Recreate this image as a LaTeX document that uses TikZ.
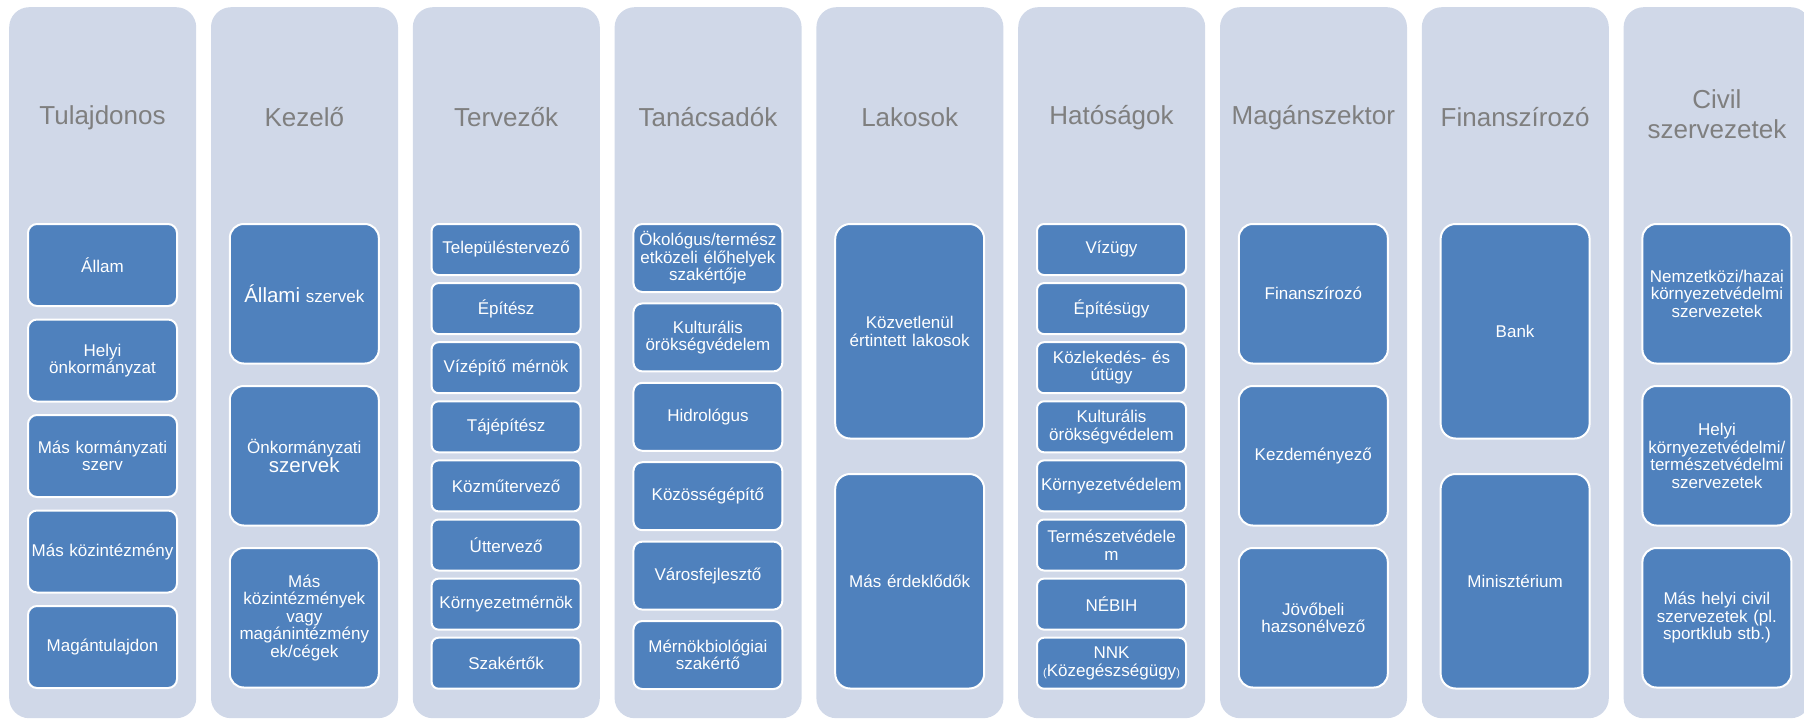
\documentclass[tikz,border=0pt]{standalone}
\usepackage{fontspec}
\setmainfont{Liberation Sans}
\definecolor{colfill}{HTML}{D0D8E8}
\definecolor{boxfill}{HTML}{4F81BD}
\definecolor{headgray}{HTML}{7F7F7F}
\newcommand{\bigw}[1]{{\fontsize{20.5}{22}\selectfont #1}}
\begin{document}
\begin{tikzpicture}[x=1pt,y=-1pt,
 colbg/.style={fill=colfill, rounded corners=20pt, draw=none, inner sep=0pt, minimum width=187pt, minimum height=711pt, anchor=north west},
 head/.style={text=headgray, font=\fontsize{26}{30}\selectfont, align=center, inner sep=0pt},
 box/.style={fill=boxfill, draw=white, line width=2pt, text=white, font=\fontsize{17}{17.5}\selectfont, align=center, inner sep=0pt, minimum width=149pt, anchor=north, text width=147pt},
 bfive/.style={box, minimum height=82pt, rounded corners=9pt},
 bthree/.style={box, minimum height=139.5pt, rounded corners=14pt},
 beight/.style={box, minimum height=51pt, rounded corners=7pt},
 bsix/.style={box, minimum height=68pt, rounded corners=9pt},
 btwo/.style={box, minimum height=214.5pt, rounded corners=15pt}
]
\useasboundingbox (0,0) rectangle (1804,720);
% columns
\node[colbg] (c1) at (9,7) {};
\node[colbg] (c2) at (210.8,7) {};
\node[colbg] (c3) at (412.6,7) {};
\node[colbg] (c4) at (614.4,7) {};
\node[colbg] (c5) at (816.2,7) {};
\node[colbg] (c6) at (1018,7) {};
\node[colbg] (c7) at (1219.8,7) {};
\node[colbg] (c8) at (1421.6,7) {};
\node[colbg] (c9) at (1623.4,7) {};
% headers
\node[head] (h1) at (102.5,117.5) {Tulajdonos};
\node[head] (h2) at (304.3,117.5) {Kezelő};
\node[head] (h3) at (506.1,117.5) {Tervezők};
\node[head] (h4) at (707.9,117.5) {Tanácsadók};
\node[head] (h5) at (909.7,117.5) {Lakosok};
\node[head] (h6) at (1111.5,117.5) {Hatóságok};
\node[head] (h7) at (1313.3,117.5) {Magánszektor};
\node[head] (h8) at (1515.1,117.5) {Finanszírozó};
\node[head] (h9) at (1716.9,114) {Civil\\szervezetek};
% column 1
\node[bfive] (a1) at (102.5,223) {Állam};
\node[bfive] (a2) at (102.5,318.5) {Helyi\\önkormányzat};
\node[bfive] (a3) at (102.5,414) {Más kormányzati\\szerv};
\node[bfive] (a4) at (102.5,509.5) {Más közintézmény};
\node[bfive] (a5) at (102.5,605) {Magántulajdon};
% column 2
\node[bthree] (b1) at (304.3,223) {\bigw{Állami} szervek};
\node[bthree] (b2) at (304.3,385) {Önkormányzati\\\bigw{szervek}};
\node[bthree] (b3) at (304.3,547) {Más\\közintézmények\\vagy\\magánintézmény\\ek/cégek};
% column 3
\node[beight] (d1) at (506.1,223) {Településtervező};
\node[beight] (d2) at (506.1,282.1) {Építész};
\node[beight] (d3) at (506.1,341.2) {Vízépítő mérnök};
\node[beight] (d4) at (506.1,400.3) {Tájépítész};
\node[beight] (d5) at (506.1,459.4) {Közműtervező};
\node[beight] (d6) at (506.1,518.5) {Úttervező};
\node[beight] (d7) at (506.1,577.6) {Környezetmérnök};
\node[beight] (d8) at (506.1,636.7) {Szakértők};
% column 4
\node[bsix] (e1) at (707.9,223) {Ökológus/termész\\etközeli élőhelyek\\szakértője};
\node[bsix] (e2) at (707.9,302.4) {Kulturális\\örökségvédelem};
\node[bsix] (e3) at (707.9,381.8) {Hidrológus};
\node[bsix] (e4) at (707.9,461.2) {Közösségépítő};
\node[bsix] (e5) at (707.9,540.6) {Városfejlesztő};
\node[bsix] (e6) at (707.9,620) {Mérnökbiológiai\\szakértő};
% column 5
\node[btwo] (f1) at (909.7,223) {Közvetlenül\\értintett lakosok};
\node[btwo] (f2) at (909.7,473) {Más érdeklődők};
% column 6
\node[beight] (g1) at (1111.5,223) {Vízügy};
\node[beight] (g2) at (1111.5,282.1) {Építésügy};
\node[beight] (g3) at (1111.5,341.2) {Közlekedés- és\\útügy};
\node[beight] (g4) at (1111.5,400.3) {Kulturális\\örökségvédelem};
\node[beight] (g5) at (1111.5,459.4) {Környezetvédelem};
\node[beight] (g6) at (1111.5,518.5) {Természetvédele\\m};
\node[beight] (g7) at (1111.5,577.6) {NÉBIH};
\node[beight] (g8) at (1111.5,636.7) {NNK\\{\fontsize{11}{12}\selectfont(}Közegészségügy{\fontsize{11}{12}\selectfont)}};
% column 7
\node[bthree] (k1) at (1313.3,223) {Finanszírozó};
\node[bthree] (k2) at (1313.3,385) {Kezdeményező};
\node[bthree] (k3) at (1313.3,547) {Jövőbeli\\hazsonélvező};
% column 8
\node[btwo] (m1) at (1515.1,223) {Bank};
\node[btwo] (m2) at (1515.1,473) {Minisztérium};
% column 9
\node[bthree] (p1) at (1716.9,223) {Nemzetközi/hazai\\környezetvédelmi\\szervezetek};
\node[bthree] (p2) at (1716.9,385) {Helyi\\környezetvédelmi/\\természetvédelmi\\szervezetek};
\node[bthree] (p3) at (1716.9,547) {Más helyi civil\\szervezetek (pl.\\sportklub stb.)};
\end{tikzpicture}
\end{document}
